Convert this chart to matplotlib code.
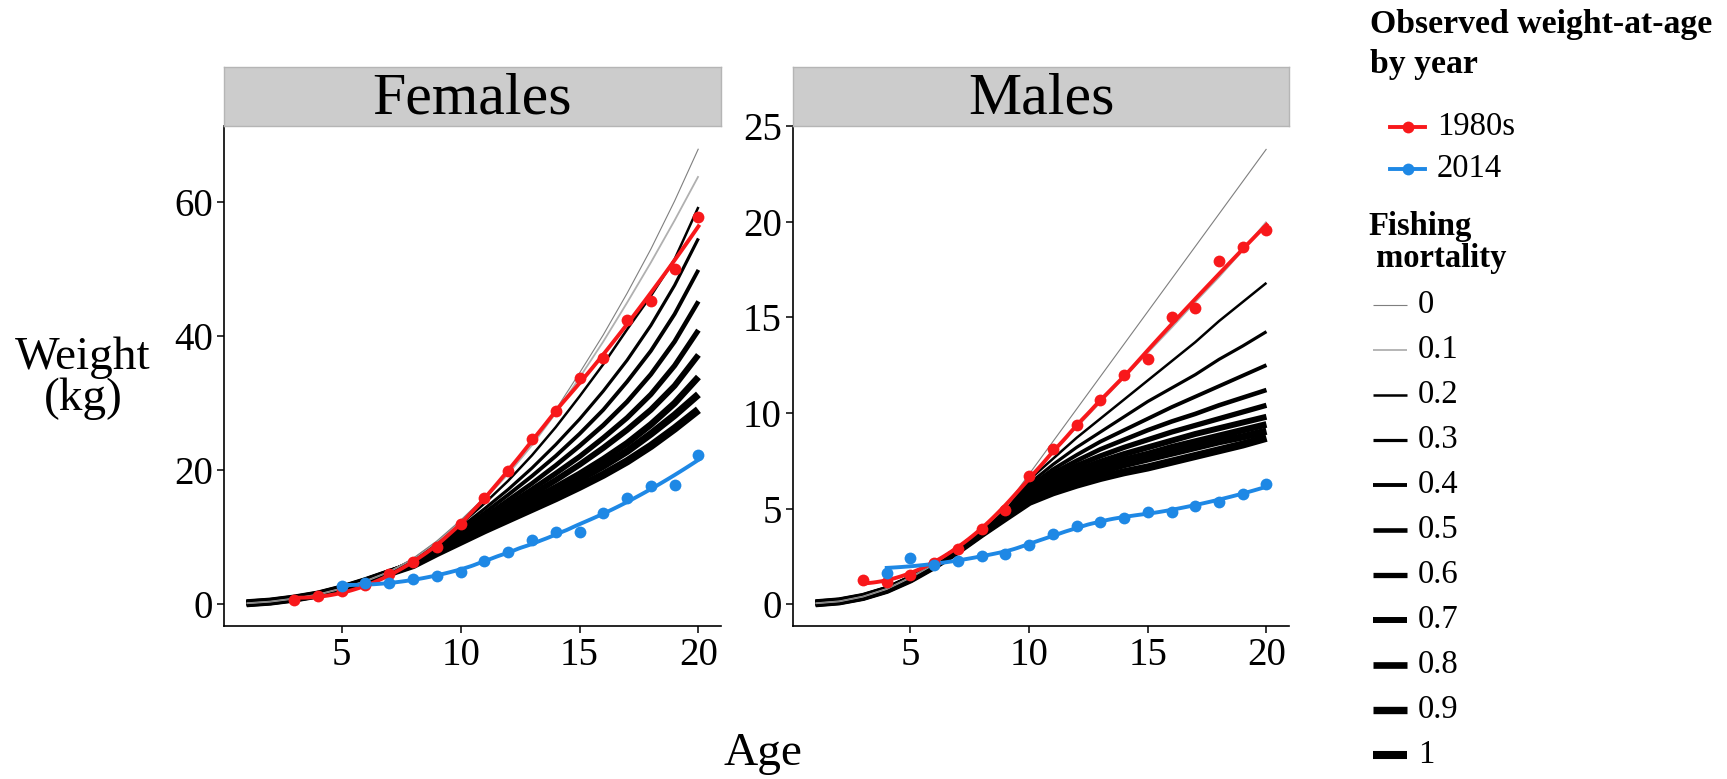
import numpy as np
import matplotlib.pyplot as plt
from matplotlib.lines import Line2D

plt.rcParams['font.family'] = ['Liberation Serif', 'DejaVu Serif']

# ---- data -------------------------------------------------------------
ages = np.arange(1, 21)
f_levels = [0, 0.1, 0.2, 0.3, 0.4, 0.5, 0.6, 0.7, 0.8, 0.9, 1]
f_labels = ['0', '0.1', '0.2', '0.3', '0.4', '0.5', '0.6', '0.7', '0.8', '0.9', '1']

# predicted weight-at-age (kg) by fishing mortality, ages 1..20
fem_F = [
    [0.10, 0.35, 0.80, 1.40, 2.30, 3.40, 4.80, 6.80, 9.40, 12.5, 15.9, 19.8, 24.1, 29.0, 34.5, 40.2, 46.4, 53.0, 60.2, 68.0],
    [0.10, 0.35, 0.80, 1.40, 2.30, 3.40, 4.80, 6.75, 9.30, 12.3, 15.6, 19.4, 23.7, 28.5, 33.8, 39.2, 45.0, 51.0, 57.3, 63.9],
    [0.10, 0.35, 0.80, 1.40, 2.30, 3.40, 4.78, 6.60, 9.00, 11.9, 15.0, 18.4, 22.2, 26.4, 31.0, 35.8, 41.0, 46.0, 51.5, 59.3],
    [0.10, 0.35, 0.80, 1.40, 2.30, 3.40, 4.76, 6.50, 8.80, 11.4, 14.2, 17.1, 20.3, 23.8, 27.6, 31.8, 36.4, 41.6, 47.6, 54.6],
    [0.10, 0.35, 0.80, 1.40, 2.30, 3.40, 4.74, 6.40, 8.60, 11.0, 13.6, 16.3, 19.1, 22.1, 25.4, 29.0, 33.2, 37.8, 43.3, 49.9],
    [0.10, 0.35, 0.80, 1.40, 2.30, 3.40, 4.72, 6.30, 8.40, 10.6, 13.0, 15.5, 18.0, 20.7, 23.6, 26.7, 30.2, 34.3, 39.2, 45.2],
    [0.10, 0.35, 0.80, 1.40, 2.30, 3.40, 4.70, 6.20, 8.20, 10.3, 12.5, 14.8, 17.1, 19.5, 22.0, 24.8, 27.8, 31.3, 35.6, 40.9],
    [0.10, 0.35, 0.80, 1.40, 2.30, 3.40, 4.68, 6.10, 8.00, 10.0, 12.1, 14.2, 16.3, 18.5, 20.8, 23.3, 26.0, 29.0, 32.6, 37.2],
    [0.10, 0.35, 0.80, 1.40, 2.30, 3.40, 4.66, 6.00, 7.80, 9.80, 11.7, 13.6, 15.5, 17.4, 19.4, 21.6, 24.0, 26.8, 30.0, 33.9],
    [0.10, 0.35, 0.80, 1.40, 2.30, 3.40, 4.64, 5.90, 7.70, 9.50, 11.3, 13.1, 14.9, 16.7, 18.6, 20.6, 22.8, 25.4, 28.2, 31.3],
    [0.10, 0.35, 0.80, 1.40, 2.30, 3.40, 4.62, 5.80, 7.60, 9.30, 11.0, 12.6, 14.2, 15.8, 17.5, 19.3, 21.3, 23.6, 26.2, 29.0],
]
mal_F = [
    [0.05, 0.15, 0.40, 0.80, 1.40, 2.10, 3.00, 3.95, 5.10, 6.80, 8.50, 10.2, 11.9, 13.6, 15.3, 17.0, 18.7, 20.4, 22.1, 23.8],
    [0.05, 0.15, 0.40, 0.80, 1.40, 2.10, 3.00, 3.95, 5.05, 6.65, 7.95, 9.25, 10.55, 11.85, 13.15, 14.45, 15.8, 17.1, 18.5, 20.0],
    [0.05, 0.15, 0.40, 0.80, 1.40, 2.10, 2.98, 3.92, 5.00, 6.50, 7.60, 8.70, 9.70, 10.7, 11.7, 12.7, 13.7, 14.8, 15.8, 16.8],
    [0.05, 0.15, 0.40, 0.80, 1.38, 2.08, 2.95, 3.88, 4.92, 6.30, 7.30, 8.20, 9.00, 9.80, 10.6, 11.3, 12.0, 12.8, 13.5, 14.25],
    [0.05, 0.15, 0.40, 0.79, 1.37, 2.07, 2.93, 3.85, 4.85, 6.15, 7.05, 7.80, 8.50, 9.10, 9.70, 10.3, 10.85, 11.4, 11.95, 12.5],
    [0.05, 0.15, 0.39, 0.78, 1.36, 2.06, 2.90, 3.82, 4.78, 6.00, 6.85, 7.50, 8.10, 8.60, 9.10, 9.55, 9.95, 10.4, 10.8, 11.2],
    [0.05, 0.15, 0.39, 0.78, 1.35, 2.05, 2.88, 3.79, 4.72, 5.85, 6.65, 7.25, 7.75, 8.20, 8.60, 9.00, 9.35, 9.70, 10.05, 10.4],
    [0.05, 0.15, 0.39, 0.77, 1.34, 2.04, 2.86, 3.76, 4.67, 5.70, 6.45, 7.00, 7.45, 7.85, 8.20, 8.55, 8.90, 9.20, 9.50, 9.80],
    [0.05, 0.15, 0.38, 0.76, 1.33, 2.03, 2.84, 3.73, 4.62, 5.55, 6.25, 6.75, 7.20, 7.55, 7.85, 8.20, 8.50, 8.80, 9.10, 9.40],
    [0.05, 0.15, 0.38, 0.76, 1.32, 2.02, 2.82, 3.70, 4.57, 5.45, 6.05, 6.55, 6.95, 7.30, 7.60, 7.90, 8.20, 8.50, 8.75, 9.05],
    [0.05, 0.15, 0.38, 0.75, 1.30, 2.00, 2.80, 3.68, 4.52, 5.35, 5.85, 6.25, 6.60, 6.90, 7.15, 7.45, 7.75, 8.05, 8.35, 8.70],
]

# observed weight-at-age
fem_1980_age = np.arange(3, 21)
fem_1980_wt = [0.64, 1.2, 2.0, 2.9, 4.4, 6.2, 8.5, 11.9, 15.8, 19.8, 24.6, 28.8, 33.7, 36.7, 42.4, 45.3, 50.0, 57.8]
fem_2014_age = np.arange(5, 21)
fem_2014_wt = [2.7, 3.1, 3.1, 3.8, 4.1, 4.8, 6.4, 7.7, 9.5, 10.7, 10.7, 13.6, 15.9, 17.6, 17.8, 22.2]
mal_1980_age = np.arange(3, 21)
mal_1980_wt = [1.25, 1.16, 1.53, 2.13, 2.88, 3.93, 4.94, 6.68, 8.12, 9.39, 10.7, 12.0, 12.8, 15.03, 15.46, 17.95, 18.68, 19.54]
mal_2014_age = np.arange(4, 21)
mal_2014_wt = [1.63, 2.43, 2.05, 2.28, 2.5, 2.62, 3.09, 3.65, 4.11, 4.3, 4.52, 4.84, 4.84, 5.12, 5.33, 5.74, 6.26]

RED = '#F8181B'
BLUE = '#1E88E5'
W, H = 1727, 779


def loess(x, y, xs, span=0.75):
    # local quadratic smoother (like geom_smooth default)
    x = np.asarray(x, float)
    y = np.asarray(y, float)
    q = int(np.floor(span * len(x)))
    out = []
    for x0 in xs:
        d = np.abs(x - x0)
        h = np.sort(d)[q - 1]
        w = np.clip(1 - (d / h) ** 3, 0, None) ** 3
        c = np.polyfit(x, y, 2, w=np.sqrt(w))
        out.append(np.polyval(c, x0))
    return np.array(out)


def lw_for(f):
    return 0.8 + 5.0 * f


def col_for(i):
    return ['#7f7f7f', '#b0b0b0'][i] if i < 2 else 'black'


def px_axes(left, top, right, bottom):
    return fig.add_axes([left / W, 1 - bottom / H, (right - left) / W, (bottom - top) / H])


fig = plt.figure(figsize=(W / 100, H / 100), dpi=100)

panels = [
    ('Females', 224, 721, fem_F, fem_1980_age, fem_1980_wt, fem_2014_age, fem_2014_wt, [0, 20, 40, 60]),
    ('Males', 793, 1289, mal_F, mal_1980_age, mal_1980_wt, mal_2014_age, mal_2014_wt, [0, 5, 10, 15, 20, 25]),
]

for title, left, right, curves, ra, rw, ba, bw, yt in panels:
    ax = px_axes(left, 126, right, 626)
    for i, f in enumerate(f_levels):
        ax.plot(ages, curves[i], color=col_for(i), lw=lw_for(f),
                solid_capstyle='butt', zorder=2 + (10 - i) * 0.01)
    for a, wt, c in [(ra, rw, RED), (ba, bw, BLUE)]:
        xs = np.linspace(a[0], a[-1], 120)
        ax.plot(xs, loess(a, wt, xs), color=c, lw=2.8, zorder=4)
        ax.plot(a, wt, 'o', color=c, ms=8.5, mec='none', zorder=5)

    allv = np.array(curves)
    lo, hi = allv.min(), allv.max()
    ax.set_ylim(lo - 0.05 * (hi - lo), hi + 0.05 * (hi - lo))
    ax.set_xlim(0.05, 20.95)
    ax.set_xticks([5, 10, 15, 20])
    ax.set_yticks(yt)
    for s in ['top', 'right']:
        ax.spines[s].set_visible(False)
    for s in ['left', 'bottom']:
        ax.spines[s].set_linewidth(1.2)
    ax.tick_params(labelsize=28, length=5, width=1.1, pad=3)

    strip = px_axes(left, 67, right, 126)
    strip.set_facecolor('#CCCCCC')
    strip.set_xticks([])
    strip.set_yticks([])
    for s in strip.spines.values():
        s.set_edgecolor('#B5B5B5')
        s.set_linewidth(1)
    strip.text(0.5, 0.45, title, fontsize=43, ha='center', va='center', transform=strip.transAxes)

fig.text(83 / W, 1 - 378 / H, 'Weight\n(kg)', fontsize=34, ha='center', va='center', linespacing=0.95)
fig.text(763 / W, 1 - 754 / H, 'Age', fontsize=34, ha='center', va='center')

# ---- legend -----------------------------------------------------------
fig.text(1370 / W, 1 - 25 / H, 'Observed weight-at-age', fontsize=24.3, fontweight='bold', va='center')
fig.text(1370 / W, 1 - 65 / H, 'by year', fontsize=24.3, fontweight='bold', va='center')
for y, c, lab in [(127, RED, '1980s'), (169, BLUE, '2014')]:
    fig.add_artist(Line2D([1390 / W, 1425 / W], [1 - y / H, 1 - y / H], color=c, lw=2.8))
    fig.add_artist(Line2D([1407.5 / W], [1 - y / H], color=c, marker='o', ms=8.5, mec='none'))
    fig.text(1437 / W, 1 - y / H, lab, fontsize=23.5, va='center')

fig.text(1368 / W, 1 - 226 / H, 'Fishing', fontsize=23.5, fontweight='bold', va='center')
fig.text(1368 / W, 1 - 258 / H, ' mortality', fontsize=23.5, fontweight='bold', va='center')
for i, (f, lab) in enumerate(zip(f_levels, f_labels)):
    y = 305 + 45 * i
    fig.add_artist(Line2D([1373 / W, 1407 / W], [1 - y / H, 1 - y / H], color=col_for(i),
                          lw=lw_for(f), solid_capstyle='butt'))
    fig.text(1418 / W, 1 - y / H, lab, fontsize=23.5, va='center')

fig.savefig('out.png', dpi=100)
